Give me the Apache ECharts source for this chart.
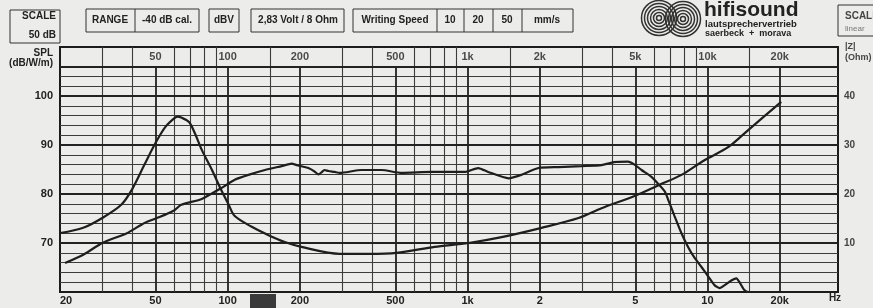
<!DOCTYPE html>
<html>
<head>
<meta charset="utf-8">
<script src="https://cdn.jsdelivr.net/npm/echarts@6/dist/echarts.min.js"></script>
<style>
  html, body { margin: 0; padding: 0; background: #ececea; }
  #chart { width: 873px; height: 308px; }
</style>
</head>
<body>
<div id="chart"></div>
<script>
(function() {
  'use strict';

  var ink = '#222';
  var font = '"Liberation Sans", Arial, sans-serif';

  // ========== Data ==========
  // SPL curve (dB/W/m)
  var splFreq = [21, 25, 30, 38, 45, 52, 60, 64, 78, 94, 107, 122, 143, 168, 185, 194, 217, 230, 239, 246, 253, 263, 279, 293,
    361, 438, 531, 708, 972, 1108, 1219, 1483, 1674, 1974, 2397, 2985, 3617, 4078, 4660, 4966, 5310, 5840, 6252, 6640, 6900,
    7290, 7790, 8300, 8800, 9440, 10100, 10700, 11240, 11800, 12620, 13200, 13600, 14240, 14830, 19500];
  var splDb = [65.9, 67.6, 70.0, 72.0, 74.1, 75.3, 76.7, 77.8, 79.0, 81.2, 82.9, 83.9, 84.9, 85.7, 86.2, 85.9, 85.3, 84.6, 84.0, 84.4, 84.9, 84.7, 84.5, 84.3,
    84.9, 84.9, 84.3, 84.5, 84.5, 85.3, 84.5, 83.2, 83.9, 85.3, 85.5, 85.7, 85.9, 86.5, 86.6, 86.0, 84.9, 83.5, 82.0, 80.5, 78.5,
    75.5, 72.0, 69.2, 67.1, 65.1, 63.1, 61.4, 60.8, 61.4, 62.4, 62.8, 62.0, 60.4, 60.0, 60.0];

  // Impedance curve |Z| (Ohm)
  var impFreq = [20, 25, 30, 36, 40, 45, 50, 55, 60, 62, 64, 69, 73, 78, 86, 94, 101, 107, 126, 148, 173, 203, 293, 387, 506,
    729, 1009, 1386, 2034, 2900, 3617, 4966, 6252, 7792, 9716, 12236, 14826, 20300];
  var impOhm = [12.0, 13.1, 15.1, 17.8, 21.0, 26.0, 30.4, 33.7, 35.5, 35.8, 35.6, 34.7, 32.4, 29.0, 24.9, 20.8, 17.8, 15.5, 13.3, 11.6, 10.2, 9.2, 7.8, 7.8, 8.0,
    9.2, 10.0, 11.2, 13.1, 15.1, 17.1, 19.6, 21.8, 23.9, 26.9, 29.6, 33.1, 38.8];

  // grid lines of the recorder paper
  var vMinorFreq = [30, 40, 60, 70, 80, 90, 150, 300, 400, 600, 700, 800, 900, 1500, 3000, 4000, 6000, 7000, 8000, 9000, 15000];
  var vMajorFreq = [50, 100, 200, 500, 1000, 2000, 5000, 10000, 20000];
  var hMinorDb = [62, 64, 66, 68, 72, 74, 76, 78, 82, 84, 86, 88, 92, 94, 96, 98, 102, 104];
  var hMajorDb = [70, 80, 90, 100, 106];

  // tick labels
  var topLabels = ['50', '100', '200', '500', '1k', '2k', '5k', '10k', '20k'];
  var bottomFreq = [20, 50, 100, 200, 500, 1000, 2000, 5000, 10000, 20000];
  var bottomLabels = ['20', '50', '100', '200', '500', '1k', '2', '5', '10', '20k'];

  function pairs(xs, ys) {
    return xs.map(function(x, i) { return [x, ys[i]]; });
  }

  // ========== Decoration helpers ==========
  function box(x, y, w, h) {
    return { type: 'rect', shape: { x: x, y: y, width: w, height: h }, style: { fill: 'none', stroke: '#333', lineWidth: 1 }, silent: true };
  }
  function vline(x, y1, y2) {
    return { type: 'line', shape: { x1: x, y1: y1, x2: x, y2: y2 }, style: { stroke: '#333', lineWidth: 1 }, silent: true };
  }
  function txt(x, y, s, size, align, color, weight) {
    return {
      type: 'text', silent: true,
      style: {
        text: s, x: x, y: y, fill: color || ink,
        font: (weight || 'bold') + ' ' + size + 'px ' + font,
        textAlign: align || 'center', textVerticalAlign: 'middle'
      }
    };
  }

  var graphics = [
    box(10, 10, 50, 33), txt(56, 16, 'SCALE', 10, 'right'), txt(56, 35, '50 dB', 10, 'right'),
    box(86, 9, 113, 23), vline(135, 9, 32), txt(110, 20, 'RANGE', 10), txt(167, 20, '-40 dB cal.', 10),
    box(209, 9, 30, 23), txt(224, 20, 'dBV', 10),
    box(251, 9, 93, 23), txt(298, 20, '2,83 Volt / 8 Ohm', 10),
    box(353, 9, 220, 23), vline(437, 9, 32), vline(464, 9, 32), vline(493, 9, 32), vline(522, 9, 32),
    txt(395, 20, 'Writing Speed', 10), txt(450, 20, '10', 10), txt(478, 20, '20', 10), txt(507, 20, '50', 10), txt(547, 20, 'mm/s', 10),
    txt(53, 53, 'SPL', 10, 'right'), txt(53, 63, '(dB/W/m)', 10, 'right'),
    box(838, 5, 45, 31), txt(845, 16, 'SCALE', 10, 'left', '#444'), txt(845, 29, 'linear', 8, 'left', '#777', 'normal'),
    txt(845, 47, '|Z|', 9, 'left', '#444'), txt(845, 58, '(Ohm)', 9, 'left', '#444'),
    txt(835, 298, 'Hz', 10),
    { type: 'rect', shape: { x: 250, y: 294, width: 26, height: 14 }, style: { fill: '#3a3a3a' }, silent: true },
    { type: 'text', silent: true, style: { text: 'hifisound', x: 704, y: 0, fill: ink, font: 'bold 21px ' + font, textAlign: 'left', textVerticalAlign: 'top' } },
    txt(705, 24, 'lautsprechervertrieb', 9.5, 'left'),
    txt(705, 34, 'saerbeck  +  morava', 9, 'left')
  ];
  [2.5, 5.5, 8.5, 11.5, 14.5, 17.5].forEach(function(r) {
    graphics.push({ type: 'circle', shape: { cx: 659, cy: 18, r: r }, style: { fill: 'none', stroke: '#333', lineWidth: 1.5 }, silent: true });
    graphics.push({ type: 'circle', shape: { cx: 683, cy: 19, r: r }, style: { fill: 'none', stroke: '#333', lineWidth: 1.5 }, silent: true });
  });

  // ========== Chart ==========
  var chart = echarts.init(document.getElementById('chart'), null, { renderer: 'canvas' });
  chart.setOption({
    animation: false,
    backgroundColor: '#ececea',
    graphic: graphics,
    grid: { left: 60, right: 35, top: 47, bottom: 16, show: true, borderColor: '#1c1c1c', borderWidth: 2, backgroundColor: 'transparent' },
    xAxis: {
      type: 'log',
      logBase: 10,
      min: 20,
      max: 35000,
      axisLine: { show: false },
      axisTick: { show: false },
      splitLine: { show: false },
      axisLabel: {
        customValues: bottomFreq,
        alignMinLabel: 'left',
        margin: 3,
        color: ink,
        fontSize: 11,
        fontWeight: 'bold',
        fontFamily: font,
        formatter: function(v) {
          var i = bottomFreq.indexOf(Math.round(v));
          return i >= 0 ? bottomLabels[i] : '';
        }
      }
    },
    yAxis: [{
      type: 'value',
      min: 60,
      max: 110,
      interval: 10,
      axisLine: { show: false },
      axisTick: { show: false },
      splitLine: { show: false },
      axisLabel: {
        margin: 7,
        color: ink,
        fontSize: 11,
        fontWeight: 'bold',
        fontFamily: font,
        formatter: function(v) { return (v > 60 && v < 110) ? String(v) : ''; }
      }
    }, {
      type: 'value',
      position: 'right',
      min: 0,
      max: 50,
      interval: 10,
      axisLine: { show: false },
      axisTick: { show: false },
      splitLine: { show: false },
      axisLabel: {
        margin: 6,
        color: '#444',
        fontSize: 10,
        fontWeight: 'bold',
        fontFamily: font,
        padding: [0, 0, 6, 0],
        formatter: function(v) { return (v > 0 && v < 50) ? String(v) : ''; }
      }
    }],
    series: [{
      name: 'grid-minor',
      type: 'line',
      data: [],
      silent: true,
      markLine: {
        silent: true,
        symbol: ['none', 'none'],
        label: { show: false },
        lineStyle: { color: '#3c3c3c', width: 1.1, type: 'solid' },
        data: vMinorFreq.map(function(f) { return { xAxis: f }; })
          .concat(hMinorDb.map(function(d) { return { yAxis: d }; }))
      }
    }, {
      name: 'grid-major',
      type: 'line',
      data: [],
      silent: true,
      markLine: {
        silent: true,
        symbol: ['none', 'none'],
        label: { show: false },
        lineStyle: { color: '#222', width: 1.8, type: 'solid' },
        data: vMajorFreq.map(function(f) { return [{ coord: [f, 60] }, { coord: [f, 106] }]; })
          .concat(hMajorDb.map(function(d) { return { yAxis: d }; }))
      }
    }, {
      name: 'top-labels',
      type: 'scatter',
      silent: true,
      symbolSize: 0,
      data: vMajorFreq.map(function(f, i) { return { value: [f, 108], name: topLabels[i] }; }),
      label: {
        show: true,
        position: 'inside',
        formatter: '{b}',
        color: ink,
        fontSize: 11,
        fontWeight: 'bold',
        fontFamily: font
      }
    }, {
      name: 'SPL',
      type: 'line',
      data: pairs(splFreq, splDb),
      yAxisIndex: 0,
      smooth: 0.2,
      symbol: 'none',
      lineStyle: { color: '#1e1e1e', width: 2.2 },
      z: 5
    }, {
      name: '|Z|',
      type: 'line',
      data: pairs(impFreq, impOhm),
      yAxisIndex: 1,
      smooth: 0.3,
      symbol: 'none',
      lineStyle: { color: '#1e1e1e', width: 2.2 },
      z: 5
    }]
  });
  window.addEventListener('resize', function() { chart.resize(); });
})();
</script>
</body>
</html>
